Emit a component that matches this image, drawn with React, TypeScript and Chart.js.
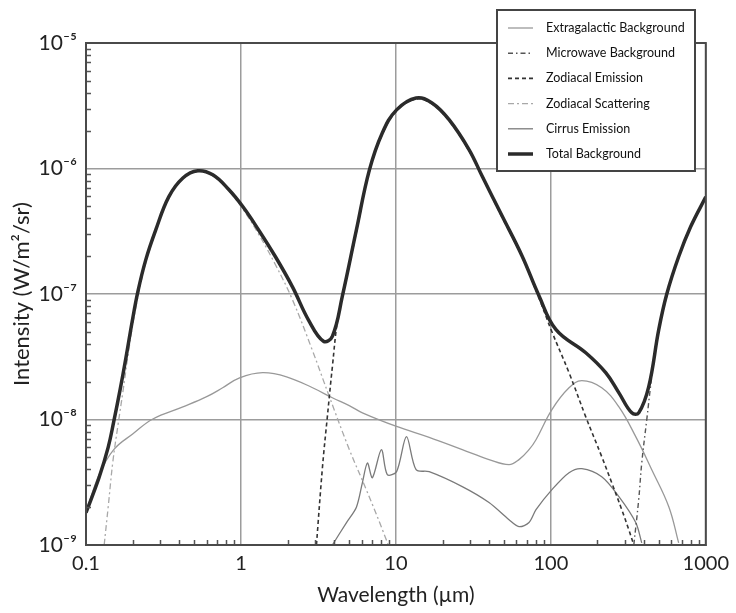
import React, { useEffect, useRef } from 'react';
import { Chart, registerables } from 'chart.js';

Chart.register(...registerables);

// Sky background components, intensity in W/m²/sr against wavelength in µm
const extragalacticWavelength = [0.1, 0.121, 0.151, 0.201, 0.27, 0.422, 0.601, 0.762, 0.98, 1.38, 1.97, 2.9, 3.89, 5.0, 6.08, 10.1, 16.4, 26.8, 39.9, 53.7, 62.3, 72.3, 80.2, 101.6, 131, 158.5, 213, 275, 353, 448, 577, 668];
const extragalacticIntensity = [1.81e-9, 3.6e-9, 5.75e-9, 7.7e-9, 1.01e-8, 1.26e-8, 1.52e-8, 1.79e-8, 2.15e-8, 2.36e-8, 2.19e-8, 1.79e-8, 1.49e-8, 1.29e-8, 1.13e-8, 8.8e-9, 7.2e-9, 5.75e-9, 4.79e-9, 4.37e-9, 4.79e-9, 5.75e-9, 6.9e-9, 1.2e-8, 1.79e-8, 2.04e-8, 1.79e-8, 1.26e-8, 7.3e-9, 3.98e-9, 2.02e-9, 1.04e-9];

const microwaveWavelength = [343, 369, 386, 416, 448, 482, 560, 668, 798, 1000];
const microwaveIntensity = [1.0e-9, 2.3e-9, 4.5e-9, 1.0e-8, 2.2e-8, 4.2e-8, 9.6e-8, 1.95e-7, 3.4e-7, 5.9e-7];

const zodiEmissionWavelength = [3.07, 3.36, 3.61, 3.89, 4.2, 4.52, 5.56, 6.74, 8.17, 10.1, 13.5, 17.1, 22.1, 29.7, 36, 48.4, 65.2, 83.8, 101.6, 131, 168, 213, 247, 287, 318, 343];
const zodiEmissionIntensity = [1.0e-9, 4.2e-9, 1.05e-8, 2.63e-8, 6.2e-8, 9.5e-8, 3.13e-7, 9.5e-7, 1.88e-6, 2.88e-6, 3.58e-6, 3.27e-6, 2.39e-6, 1.38e-6, 8.6e-7, 4.1e-7, 1.98e-7, 9.3e-8, 5.0e-8, 2.36e-8, 1.05e-8, 5.06e-9, 3.14e-9, 1.91e-9, 1.33e-9, 1.0e-9];

const zodiScatteringWavelength = [0.131, 0.139, 0.149, 0.161, 0.173, 0.189, 0.21, 0.243, 0.282, 0.342, 0.422, 0.526, 0.658, 0.834, 1.03, 1.3, 1.67, 2.15, 2.88, 3.72, 5.01, 6.44, 8.67, 9.4];
const zodiScatteringIntensity = [1.0e-9, 2.0e-9, 4.6e-9, 9.1e-9, 1.66e-8, 3.6e-8, 7.9e-8, 1.78e-7, 3.14e-7, 5.83e-7, 8.28e-7, 9.46e-7, 8.74e-7, 6.63e-7, 4.74e-7, 3.0e-7, 1.71e-7, 9.0e-8, 3.6e-8, 1.52e-8, 5.75e-9, 2.76e-9, 1.1e-9, 8.0e-10];

const cirrusWavelength = [3.89, 4.8, 5.56, 6.08, 6.55, 7.05, 8.06, 8.8, 10.1, 11.7, 13.5, 16.4, 26.8, 39.9, 53.7, 62.3, 72.3, 80.2, 101.6, 131, 158.5, 213, 275, 353, 386];
const cirrusIntensity = [1.0e-9, 1.51e-9, 2.0e-9, 3.14e-9, 4.5e-9, 3.44e-9, 5.75e-9, 3.64e-9, 3.84e-9, 7.3e-9, 3.98e-9, 3.84e-9, 2.92e-9, 2.18e-9, 1.59e-9, 1.4e-9, 1.51e-9, 1.91e-9, 2.76e-9, 3.77e-9, 4.06e-9, 3.5e-9, 2.43e-9, 1.51e-9, 1.04e-9];

const totalWavelength = [0.1, 0.121, 0.139, 0.151, 0.166, 0.181, 0.198, 0.216, 0.243, 0.282, 0.342, 0.422, 0.526, 0.658, 0.834, 1.03, 1.3, 1.67, 2.15, 2.73, 3.41, 3.89, 4.52, 5.56, 6.74, 8.17, 10.1, 13.5, 17.1, 22.1, 29.7, 36, 48.4, 65.2, 83.8, 108, 168, 226, 275, 333, 369, 428, 497, 560, 668, 798, 1000];
const totalIntensity = [1.81e-9, 3.4e-9, 6.0e-9, 9.6e-9, 1.73e-8, 3.1e-8, 5.9e-8, 1.04e-7, 1.87e-7, 3.24e-7, 5.94e-7, 8.4e-7, 9.6e-7, 8.9e-7, 6.8e-7, 4.95e-7, 3.24e-7, 1.98e-7, 1.14e-7, 6.2e-8, 4.2e-8, 4.6e-8, 9.7e-8, 3.24e-7, 9.7e-7, 1.92e-6, 2.93e-6, 3.65e-6, 3.33e-6, 2.44e-6, 1.41e-6, 8.7e-7, 4.2e-7, 2.01e-7, 9.7e-8, 5.2e-8, 3.4e-8, 2.36e-8, 1.63e-8, 1.13e-8, 1.13e-8, 1.82e-8, 5.2e-8, 1.0e-7, 1.98e-7, 3.43e-7, 5.94e-7];

const seriesNames = [
  'Extragalactic Background',
  'Microwave Background',
  'Zodiacal Emission',
  'Zodiacal Scattering',
  'Cirrus Emission',
  'Total Background',
];

const xTickValues = [0.1, 1, 10, 100, 1000];
const xTickLabels = ['0.1', '1', '10', '100', '1000'];
const yTickValues = [1e-9, 1e-8, 1e-7, 1e-6, 1e-5];
const yTickLabels = ['10⁻⁹', '10⁻⁸', '10⁻⁷', '10⁻⁶', '10⁻⁵'];

const FONT = 'Lato, "Noto Sans", "DejaVu Sans", sans-serif';

const pairs = (xs: number[], ys: number[]) => xs.map((x, i) => ({ x, y: ys[i] }));

const labelFor = (values: number[], labels: string[], v: number) => {
  const i = values.findIndex((t) => Math.abs(Math.log10(t) - Math.log10(v)) < 1e-6);
  return i >= 0 ? labels[i] : '';
};

// inward minor ticks, top/right frame
const framePlugin = {
  id: 'frame',
  afterDatasetsDraw(chart: any) {
    const { ctx, chartArea: a, scales } = chart;
    ctx.save();
    ctx.strokeStyle = '#555';
    ctx.lineWidth = 1.5;
    ctx.beginPath();
    for (let e = -1; e <= 2; e++) {
      for (let m = 2; m <= 9; m++) {
        const px = Math.round(scales.x.getPixelForValue(m * Math.pow(10, e))) + 0.5;
        ctx.moveTo(px, a.bottom);
        ctx.lineTo(px, a.bottom - 5);
      }
    }
    for (let e = -9; e <= -6; e++) {
      for (let m = 2; m <= 9; m++) {
        const py = Math.round(scales.y.getPixelForValue(m * Math.pow(10, e))) + 0.5;
        ctx.moveTo(a.left, py);
        ctx.lineTo(a.left + 5, py);
      }
    }
    ctx.stroke();
    ctx.strokeStyle = '#4a4a4a';
    ctx.lineWidth = 2;
    ctx.strokeRect(a.left, a.top, a.right - a.left, a.bottom - a.top);
    ctx.restore();
  },
};

// boxed key in the upper right corner
const keyPlugin = {
  id: 'key',
  afterDraw(chart: any) {
    const { ctx } = chart;
    const box = { x: 497, y: 10, w: 198, h: 161 };
    ctx.save();
    ctx.fillStyle = '#fff';
    ctx.fillRect(box.x, box.y, box.w, box.h);
    ctx.strokeStyle = '#444';
    ctx.lineWidth = 2;
    ctx.strokeRect(box.x, box.y, box.w, box.h);
    ctx.font = `12.5px ${FONT}`;
    ctx.textBaseline = 'middle';
    ctx.fillStyle = '#111';
    seriesNames.forEach((name, i) => {
      const ds = chart.data.datasets.find((d: any) => d.label === name);
      const y = box.y + 18 + i * 25.2;
      ctx.save();
      ctx.strokeStyle = ds.borderColor;
      ctx.lineWidth = ds.borderWidth;
      ctx.setLineDash(ds.borderDash || []);
      ctx.beginPath();
      ctx.moveTo(box.x + 11, y);
      ctx.lineTo(box.x + 36, y);
      ctx.stroke();
      ctx.restore();
      ctx.fillText(name, box.x + 49, y);
    });
    ctx.restore();
  },
};

export default function App() {
  const canvasRef = useRef<HTMLCanvasElement | null>(null);

  useEffect(() => {
    const canvas = canvasRef.current;
    if (!canvas) return;
    const line = (label: string, xs: number[], ys: number[], color: string, width: number, dash: number[], order: number, tension = 0.4) => ({
      label,
      data: pairs(xs, ys),
      borderColor: color,
      borderWidth: width,
      borderDash: dash,
      pointRadius: 0,
      fill: false,
      tension,
      clip: 0,
      order,
    });

    const chart = new Chart(canvas, {
      type: 'line',
      data: {
        datasets: [
          line(seriesNames[5], totalWavelength, totalIntensity, '#2b2b2b', 3.5, [], 0),
          line(seriesNames[2], zodiEmissionWavelength, zodiEmissionIntensity, '#333', 1.6, [4, 3], 1),
          line(seriesNames[1], microwaveWavelength, microwaveIntensity, '#555', 1.4, [5, 3, 1.5, 3], 2),
          line(seriesNames[4], cirrusWavelength, cirrusIntensity, '#7a7a7a', 1.3, [], 3, 0.3),
          line(seriesNames[3], zodiScatteringWavelength, zodiScatteringIntensity, '#a8a8a8', 1.3, [6, 3, 2, 3], 4),
          line(seriesNames[0], extragalacticWavelength, extragalacticIntensity, '#999', 1.3, [], 5),
        ],
      },
      options: {
        animation: false,
        responsive: true,
        maintainAspectRatio: false,
        layout: { padding: { top: 43, right: 29, bottom: 0, left: 0 } },
        plugins: { legend: { display: false }, tooltip: { enabled: false } },
        scales: {
          x: {
            type: 'logarithmic',
            min: 0.1,
            max: 1000,
            afterBuildTicks: (s: any) => {
              s.ticks = xTickValues.map((v) => ({ value: v }));
            },
            afterFit: (s: any) => {
              s.height = 68;
            },
            ticks: {
              autoSkip: false,
              maxRotation: 0,
              padding: 7,
              color: '#222',
              font: { family: FONT, size: 20 },
              callback: (v: any) => labelFor(xTickValues, xTickLabels, Number(v)),
            },
            grid: { color: '#9c9c9c', lineWidth: 1.5, drawTicks: false },
            border: { display: true, color: '#4a4a4a', width: 2 },
            title: {
              display: true,
              text: 'Wavelength (µm)',
              color: '#222',
              font: { family: FONT, size: 21 },
              padding: { top: 0, bottom: 5 },
            },
          },
          y: {
            type: 'logarithmic',
            min: 1e-9,
            max: 1e-5,
            afterBuildTicks: (s: any) => {
              s.ticks = yTickValues.map((v) => ({ value: v }));
            },
            afterFit: (s: any) => {
              s.width = 86;
            },
            ticks: {
              autoSkip: false,
              padding: 9,
              color: '#222',
              font: { family: FONT, size: 21 },
              callback: (v: any) => labelFor(yTickValues, yTickLabels, Number(v)),
            },
            grid: { color: '#9c9c9c', lineWidth: 1.5, drawTicks: false },
            border: { display: true, color: '#4a4a4a', width: 2 },
            title: {
              display: true,
              text: 'Intensity (W/m²/sr)',
              color: '#222',
              font: { family: FONT, size: 22 },
              padding: { top: 9, bottom: 0 },
            },
          },
        },
      },
      plugins: [framePlugin, keyPlugin],
    });
    return () => chart.destroy();
  }, []);

  return (
    <div style={{ position: 'fixed', left: 0, top: 0, width: 736, height: 613, background: '#fff' }}>
      <canvas ref={canvasRef} />
    </div>
  );
}
